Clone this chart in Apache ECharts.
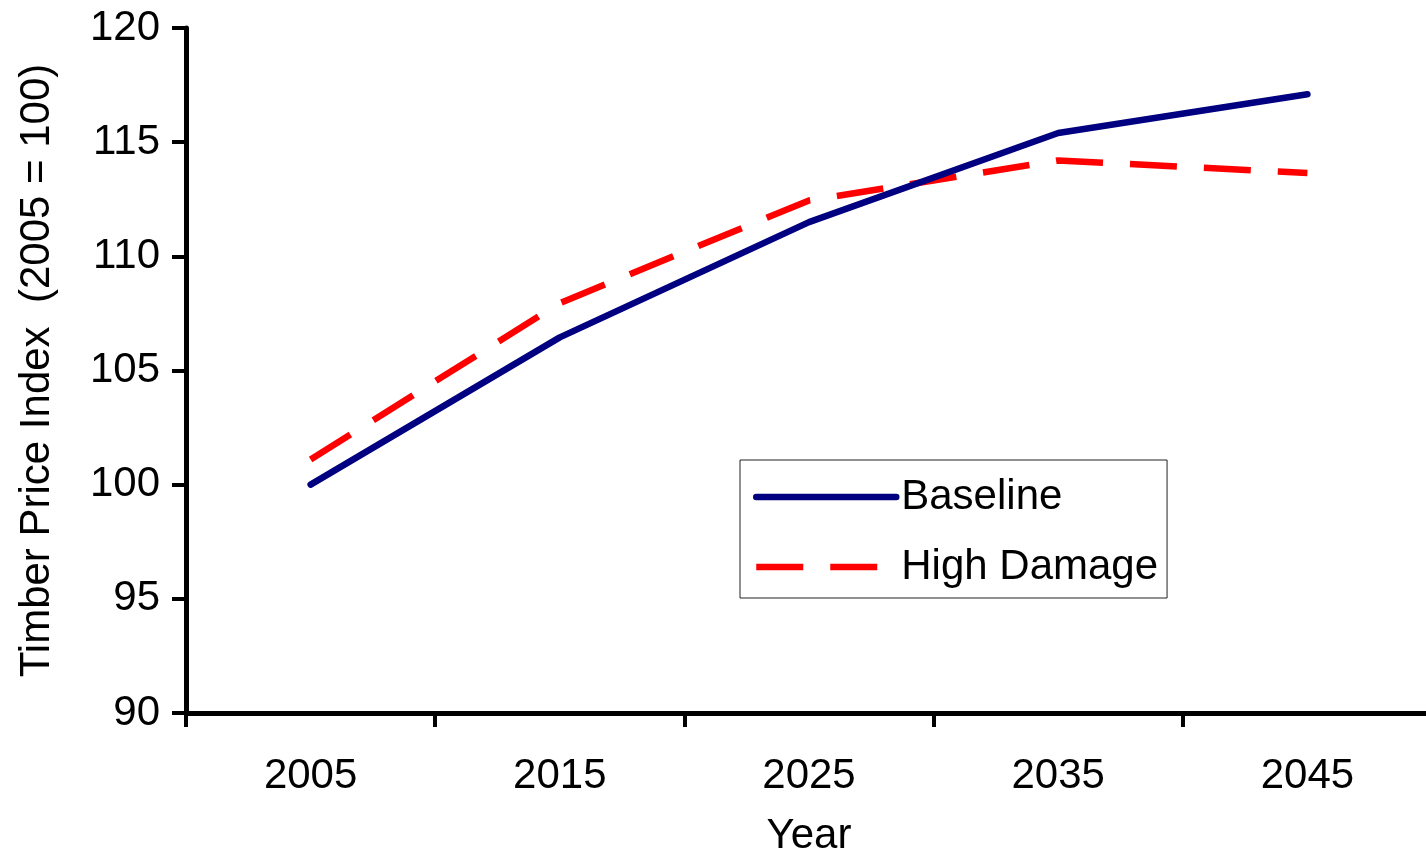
<!DOCTYPE html>
<html>
<head>
<meta charset="utf-8">
<script src="https://cdn.jsdelivr.net/npm/echarts@6/dist/echarts.min.js"></script>
<style>
  html, body { margin: 0; padding: 0; background: #fff; }
  #chart { width: 1426px; height: 857px; }
</style>
</head>
<body>
<div id="chart"></div>
<script>
// Timber price index projections under two scenarios
const years = ['2005', '2015', '2025', '2035', '2045'];
const baseline = [100.0, 106.45, 111.5, 115.4, 117.1];
const highDamage = [101.1, 107.95, 112.45, 114.2, 113.65];

const FONT = 'Liberation Sans, Arial, sans-serif';
const FS = 42;
const chart = echarts.init(document.getElementById('chart'));

chart.setOption({
  backgroundColor: '#fff',
  animation: false,
  textStyle: { fontFamily: FONT, color: '#000' },
  // plot area runs slightly past the right edge of the canvas
  grid: { left: 186, top: 28, width: 1246, bottom: 144, outerBoundsMode: 'none', containLabel: false },
  legend: {
    orient: 'vertical',
    left: 740,
    top: 460,
    padding: [16, 9, 10, 13],
    borderColor: '#222',
    borderWidth: 1,
    backgroundColor: '#fff',
    itemWidth: 140,
    itemHeight: 20,
    itemGap: 28,
    itemStyle: { opacity: 0 },
    lineStyle: { width: 6.5 },
    textStyle: { fontFamily: FONT, fontSize: FS, color: '#000' },
    data: ['Baseline', 'High Damage']
  },
  xAxis: {
    type: 'category',
    data: years,
    boundaryGap: true,
    name: 'Year',
    nameLocation: 'middle',
    nameGap: 102,
    nameTextStyle: { fontFamily: FONT, fontSize: FS, color: '#000' },
    axisLine: { lineStyle: { color: '#000', width: 5 } },
    axisTick: { show: true, alignWithLabel: false, length: 14, lineStyle: { color: '#000', width: 4 } },
    axisLabel: { fontFamily: FONT, fontSize: FS, color: '#000', margin: 42 },
    splitLine: { show: false }
  },
  yAxis: {
    type: 'value',
    min: 90,
    max: 120,
    interval: 5,
    name: 'Timber Price Index  (2005 = 100)',
    nameLocation: 'middle',
    nameGap: 128,
    nameTextStyle: { fontFamily: FONT, fontSize: FS, color: '#000' },
    axisLine: { show: true, lineStyle: { color: '#000', width: 5 } },
    axisTick: { show: true, length: 14, lineStyle: { color: '#000', width: 4 } },
    axisLabel: { fontFamily: FONT, fontSize: FS, color: '#000', margin: 26 },
    splitLine: { show: false }
  },
  series: [
    {
      name: 'Baseline',
      type: 'line',
      data: baseline,
      symbol: 'none',
      lineStyle: { color: '#000080', width: 6.5, cap: 'round', join: 'round' },
      itemStyle: { color: '#000080' },
      z: 3
    },
    {
      name: 'High Damage',
      type: 'line',
      data: highDamage,
      symbol: 'none',
      lineStyle: { color: '#ff0000', width: 6.5, type: [47, 27], cap: 'butt' },
      itemStyle: { color: '#ff0000' },
      z: 2
    }
  ]
});
</script>
</body>
</html>
